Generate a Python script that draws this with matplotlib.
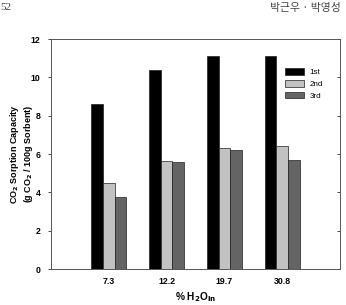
import numpy as np
import matplotlib
matplotlib.use('Agg')
import matplotlib.pyplot as plt

plt.rcParams['font.family'] = ['Liberation Sans', 'Noto Sans CJK KR', 'DejaVu Sans']

# data
h2o_labels = ['7.3', '12.2', '19.7', '30.8']
first = [8.6, 10.4, 11.1, 11.1]
second = [4.5, 5.65, 6.3, 6.4]
third = [3.75, 5.6, 6.2, 5.7]
series_names = ['1st', '2nd', '3rd']
colors = ['#000000', '#c2c2c2', '#646464']

fig = plt.figure(figsize=(3.46, 3.05), dpi=100)
ax = fig.add_axes([0.1474, 0.118, 0.8353, 0.754])

x = np.arange(1, len(h2o_labels) + 1)
w = 0.2
for i, (vals, name, c) in enumerate(zip([first, second, third], series_names, colors)):
    ax.bar(x + (i - 1) * w, vals, width=w, color=c, edgecolor='#202020',
           linewidth=0.5, label=name)

ax.set_xlim(0, 5)
ax.set_ylim(0, 12)
ax.set_xticks(x)
ax.set_xticklabels(h2o_labels, fontsize=6.3, fontweight='bold')
ax.set_yticks(range(0, 13, 2))
ax.set_yticklabels([str(v) for v in range(0, 13, 2)], fontsize=6.3, fontweight='bold')
ax.tick_params(axis='x', length=0, pad=6)
ax.tick_params(axis='y', length=2.5, width=0.5, pad=5, right=True, direction='out')
# right side ticks point inward
for t in ax.yaxis.get_major_ticks():
    t.tick2line.set_marker(matplotlib.lines.TICKLEFT)
for s in ax.spines.values():
    s.set_linewidth(0.7)
    s.set_color('#555555')

ax.set_ylabel('CO$_\\mathbf{2}$ Sorption Capacity\n(g CO$_\\mathbf{2}$ / 100g Sorbent)',
              fontsize=6.5, fontweight='bold', linespacing=1.15)
ax.yaxis.set_label_coords(-0.055, 0.5)
ax.set_xlabel('% H$_\\mathbf{2}$O$_\\mathbf{in}$', fontsize=7.3, fontweight='bold')
ax.xaxis.set_label_coords(0.5, -0.09)

ax.legend(loc='upper right', bbox_to_anchor=(0.965, 0.905), frameon=False, fontsize=5.8,
          handlelength=2.3, handleheight=0.9, labelspacing=0.45, handletextpad=0.7)

# page header
fig.text(0.0, 0.975, '52', fontsize=8, color='#444444', va='center', ha='left',
         family=['Liberation Serif'])
fig.text(0.985, 0.975, '박근우 · 박영성', fontsize=7.8, color='#444444', va='center',
         ha='right', family=['Noto Sans CJK KR', 'DejaVu Sans'])

fig.savefig('out.png', dpi=100)
